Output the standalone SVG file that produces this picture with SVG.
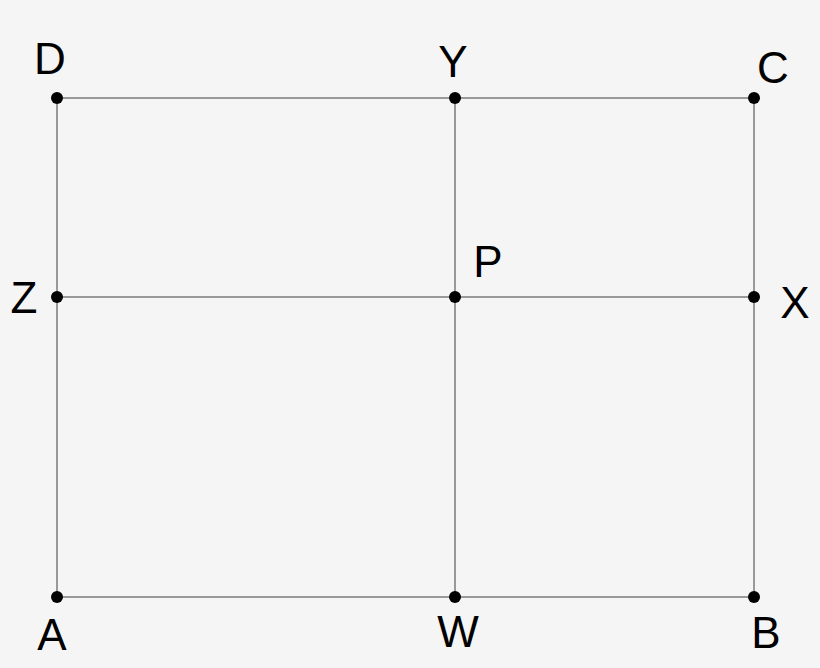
<svg xmlns="http://www.w3.org/2000/svg" width="820" height="668" viewBox="0 0 820 668">
<style>
.ln{stroke:#999;stroke-width:2;fill:none}
.pt{fill:#000}
.lb{font-family:"Liberation Sans",Arial,sans-serif;font-size:44px;fill:#000;text-anchor:middle}
</style>
<rect width="820" height="668" fill="#f5f5f5"/>
<g id="connectors">
<rect class="ln" x="57" y="98" width="697" height="499"/>
<line class="ln" x1="455" y1="98" x2="455" y2="597"/>
<line class="ln" x1="57" y1="297" x2="754" y2="297"/>
</g>
<g id="D"><circle class="pt" cx="57" cy="98" r="6"/><text class="lb" x="50" y="74">D</text></g>
<g id="Y"><circle class="pt" cx="455" cy="98" r="6"/><text class="lb" x="453" y="77">Y</text></g>
<g id="C"><circle class="pt" cx="754" cy="98" r="6"/><text class="lb" x="773" y="83">C</text></g>
<g id="Z"><circle class="pt" cx="57" cy="297" r="6"/><text class="lb" x="24" y="313">Z</text></g>
<g id="P"><circle class="pt" cx="455" cy="297" r="6"/><text class="lb" x="488" y="277">P</text></g>
<g id="X"><circle class="pt" cx="754" cy="297" r="6"/><text class="lb" x="795" y="318">X</text></g>
<g id="A"><circle class="pt" cx="57" cy="597" r="6"/><text class="lb" x="52" y="650">A</text></g>
<g id="W"><circle class="pt" cx="455" cy="597" r="6"/><text class="lb" x="458" y="647">W</text></g>
<g id="B"><circle class="pt" cx="754" cy="597" r="6"/><text class="lb" x="766" y="648">B</text></g>
</svg>
